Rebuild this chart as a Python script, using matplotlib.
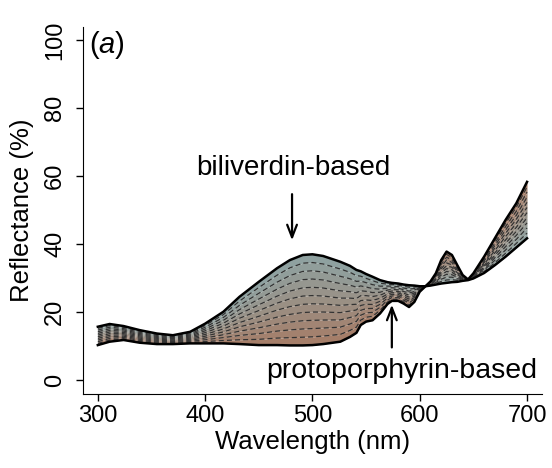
import numpy as np
import matplotlib
matplotlib.use('Agg')
import matplotlib.pyplot as plt
from matplotlib.colors import to_rgb

plt.rcParams['font.family'] = ['Liberation Sans', 'DejaVu Sans']
plt.rcParams['mathtext.fontset'] = 'custom'
plt.rcParams['mathtext.rm'] = 'Liberation Sans'
plt.rcParams['mathtext.it'] = 'Liberation Sans:italic'

# wavelength (nm) and reflectance (%) of the two end-member spectra
wl = [300, 311, 324, 339, 355, 370, 386, 400, 417, 432, 450, 467, 479, 491,
      500, 510, 526, 535, 541, 545, 550, 556, 563, 570, 574, 580, 585, 590,
      595, 600, 605, 610, 615, 620, 625, 630, 635, 640, 645, 650, 660, 670,
      680, 690, 700]
biliverdin = [15.7, 16.5, 15.9, 14.7, 13.7, 13.2, 14.2, 16.6, 20.1, 24.5,
              28.9, 32.9, 35.3, 36.8, 37.0, 36.5, 34.8, 33.6, 32.4, 32.0,
              31.2, 30.4, 29.4, 28.8, 28.6, 28.4, 28.1, 27.9, 27.8, 27.6,
              27.6, 27.8, 28.1, 28.4, 28.6, 28.8, 28.9, 29.2, 29.4, 29.9,
              31.5, 33.8, 36.3, 39.0, 41.7]
protoporphyrin = [10.3, 11.3, 11.8, 11.0, 10.6, 10.6, 10.8, 10.8, 10.8, 10.6,
                  10.3, 10.3, 10.2, 10.2, 10.3, 10.6, 11.3, 12.7, 13.9, 16.2,
                  17.2, 17.6, 19.6, 22.4, 23.3, 23.3, 22.5, 21.5, 23.0, 26.0,
                  27.5, 29.0, 31.4, 35.3, 37.8, 36.8, 33.8, 30.9, 29.6, 31.4,
                  36.3, 41.7, 47.1, 52.0, 58.3]
# proportion of protoporphyrin in each mixed spectrum
mix = [i / 11 for i in range(12)]

top_col = np.array(to_rgb('#8ea3a3'))
bot_col = np.array(to_rgb('#a67c66'))

x = np.array(wl)
b = np.array(biliverdin)
p = np.array(protoporphyrin)
curves = [(1 - m) * b + m * p for m in mix]

fig = plt.figure(figsize=(5.52, 4.68), dpi=100)
ax = fig.add_axes([0.150, 0.158, 0.832, 0.784])

for k in range(len(curves) - 1):
    f = (mix[k] + mix[k + 1]) / 2
    ax.fill_between(x, curves[k], curves[k + 1], color=(1 - f) * top_col + f * bot_col,
                    linewidth=0)
for k in range(1, len(curves) - 1):
    ax.plot(x, curves[k], color='#333333', lw=0.9, ls=(0, (4, 2.5)))
ax.plot(x, b, color='black', lw=1.8)
ax.plot(x, p, color='black', lw=1.8)

ax.annotate('', xy=(481, 40.3), xytext=(481, 55.5),
            arrowprops=dict(arrowstyle='->,head_length=0.9,head_width=0.35', lw=1.6, color='black'))
ax.annotate('', xy=(574, 23.0), xytext=(574, 8.8),
            arrowprops=dict(arrowstyle='->,head_length=0.9,head_width=0.35', lw=1.6, color='black'))
ax.text(482, 62.3, 'biliverdin-based', ha='center', va='center', fontsize=20)
ax.text(583, 2.6, 'protoporphyrin-based', ha='center', va='center', fontsize=20.5)
ax.text(291.5, 98.6, r'($\mathit{a}$)', ha='left', va='center', fontsize=21)

ax.set_xlim(286, 714)
ax.set_ylim(-4.1, 103.8)
ax.set_xticks([300, 400, 500, 600, 700])
ax.set_yticks([0, 20, 40, 60, 80, 100])
ax.spines['top'].set_visible(False)
ax.spines['right'].set_visible(False)
ax.tick_params(direction='out', length=5, width=1, labelsize=17, pad=3)
ax.tick_params(axis='y', pad=7)
for lab in ax.get_yticklabels():
    lab.set_rotation(90)
    lab.set_va('center')
ax.set_xlabel('Wavelength (nm)', fontsize=18.5)
ax.set_ylabel('Reflectance (%)', fontsize=18.5)
ax.xaxis.set_label_coords(0.5, -0.098)
ax.yaxis.set_label_coords(-0.107, 0.5)

fig.savefig('out.png', dpi=100)
